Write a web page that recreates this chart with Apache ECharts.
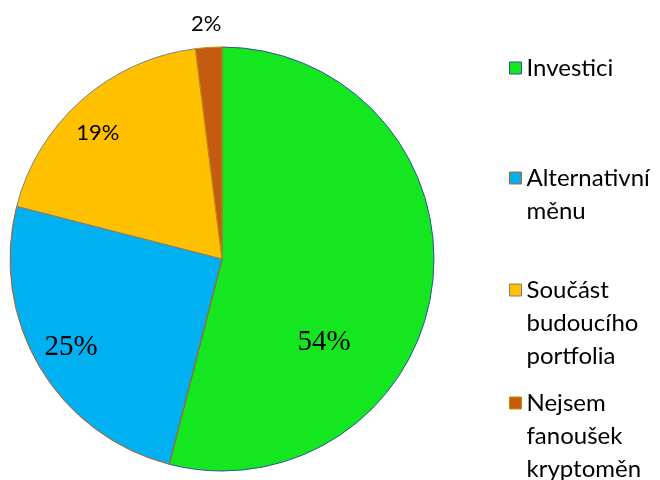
<!DOCTYPE html>
<html>
<head>
<meta charset="utf-8">
<script src="https://cdn.jsdelivr.net/npm/echarts@6/dist/echarts.min.js"></script>
<style>
  html, body { margin: 0; padding: 0; background: #fff; }
  #main { width: 660px; height: 480px; }
</style>
</head>
<body>
<div id="main"></div>
<script>
    var names = ['Investici', 'Alternativní\nměnu', 'Součást\nbudoucího\nportfolia', 'Nejsem\nfanoušek\nkryptoměn'];
    var values = [54, 25, 19, 2];
    var colors = ['#14e61f', '#00b0f0', '#ffc000', '#c55a11'];
    var borders = ['#2f5597', '#c55a11', '#7f7f7f', '#bf9000'];

    var chart = echarts.init(document.getElementById('main'));

    // label tweaks to match the excel-ish placement
    var labelShift = [[-6, 70], [-57, 33], [-52, -44], [-9, -126]];
    var bigLabel = { fontFamily: 'Liberation Serif', fontSize: 29, color: '#000' };
    var smallLabel = { fontFamily: 'Lato', fontSize: 22, color: '#000' };

    var data = values.map(function (v, i) {
        return {
            value: v,
            name: names[i],
            itemStyle: { color: colors[i], borderColor: borders[i], borderWidth: 1 },
            label: (i < 2 ? bigLabel : smallLabel)
        };
    });

    // one legend per item; icon is centred on the text block, so pad the
    // front with empty lines to get it onto the first line
    var lineH = 33;
    var firstLine = [68, 178, 290, 403];
    var legends = names.map(function (n, i) {
        var lines = n.split('\n').length;
        var total = 2 * lines - 1;
        return {
            data: [n],
            left: 509,
            top: firstLine[i] - total * lineH / 2,
            orient: 'vertical',
            icon: 'rect',
            itemWidth: 12,
            itemHeight: 12,
            itemGap: 0,
            padding: 0,
            selectedMode: false,
            itemStyle: { color: colors[i], borderColor: borders[i], borderWidth: 1 },
            formatter: function (name) {
                return new Array(lines).join('\n') + name;
            },
            textStyle: {
                fontFamily: 'Lato',
                fontSize: 24,
                color: '#000',
                lineHeight: lineH
            }
        };
    });

    chart.setOption({
        animation: false,
        legend: legends,
        series: [
            {
                type: 'pie',
                center: [222, 259],
                radius: [0, 212],
                startAngle: 90,
                clockwise: true,
                data: data,
                label: {
                    show: true,
                    position: 'inside',
                    formatter: '{c}%'
                },
                labelLine: { show: false },
                labelLayout: function (p) {
                    var s = labelShift[p.dataIndex];
                    return { dx: s[0], dy: s[1] };
                },
                emphasis: { disabled: true }
            }
        ]
    });
</script>
</body>
</html>
